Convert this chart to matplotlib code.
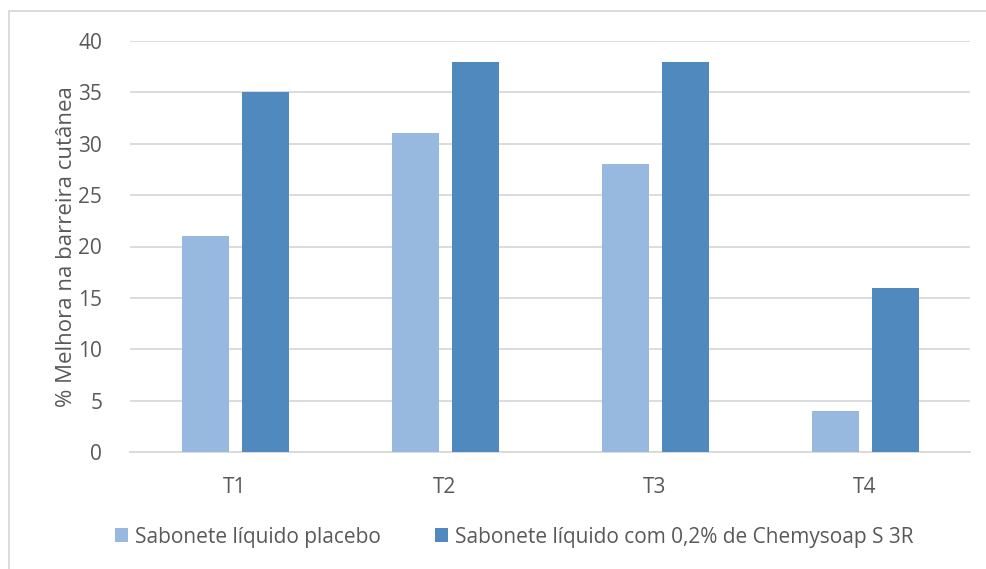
import numpy as np
import matplotlib.pyplot as plt
from matplotlib.patches import Rectangle

plt.rcParams['font.family'] = ['Open Sans', 'DejaVu Sans']

categories = ["T1", "T2", "T3", "T4"]
placebo = [21, 31, 28, 4]
chemysoap = [35, 38, 38, 16]
series_names = ["Sabonete líquido placebo",
                "Sabonete líquido com 0,2% de Chemysoap S 3R"]

light = "#98B9DF"
dark = "#4F89BD"
text_col = "#595959"
grid_col = "#D9D9D9"

fig = plt.figure(figsize=(9.86, 5.69), dpi=100)
ax = fig.add_axes([130/986, 1-452/569, 840/986, 411/569])

x = np.arange(len(categories))
w = 47/210
off = 30/210
ax.bar(x - off, placebo, w, color=light, label=series_names[0], zorder=3)
ax.bar(x + off, chemysoap, w, color=dark, label=series_names[1], zorder=3)

ax.set_xlim(-0.5, len(categories) - 0.5)
ax.set_ylim(0, 40)
ax.set_yticks(range(0, 41, 5))
ax.set_xticks(x)
ax.set_xticklabels(categories)
ax.grid(axis="y", color=grid_col, linewidth=1.3, zorder=0)
for s in ["top", "right", "left"]:
    ax.spines[s].set_visible(False)
ax.spines["bottom"].set_color(grid_col)
ax.spines["bottom"].set_linewidth(1.3)
ax.tick_params(axis="both", length=0, labelsize=15, labelcolor=text_col)
ax.tick_params(axis="y", pad=20)
ax.tick_params(axis="x", pad=18)
ax.set_ylabel("% Melhora na barreira cutânea", fontsize=16, color=text_col, labelpad=1)

fig.legend(loc="center", bbox_to_anchor=(514/986, 1-537/569), ncol=2, frameon=False,
           fontsize=15, labelcolor=text_col, handlelength=0.65, handleheight=0.65,
           handletextpad=0.3, columnspacing=2.6)

fig.add_artist(Rectangle((9/986, -0.1), 1.2, 1.1 - 11/569, transform=fig.transFigure,
                         fill=False, edgecolor=grid_col, linewidth=1.3))

fig.savefig("out.png", dpi=100)
